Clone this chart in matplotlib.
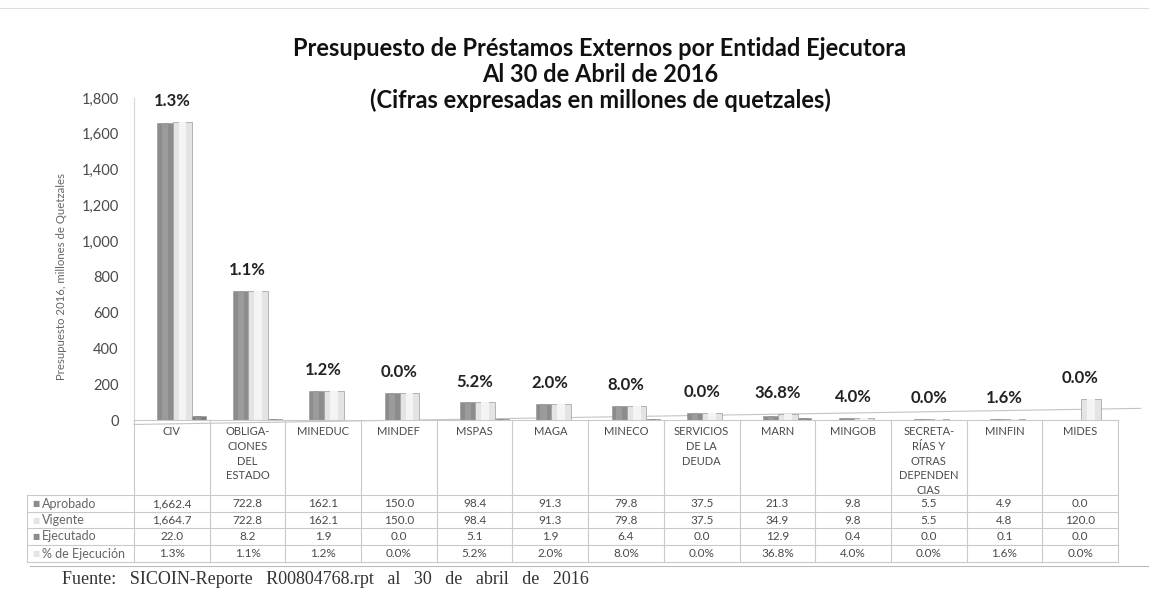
#!/usr/bin/env python3

"""Presupuesto de prestamos externos por entidad ejecutora (abril 2016)."""

import matplotlib
matplotlib.use('Agg')
import matplotlib.pyplot as plt
import numpy as np

categories = ['CIV', 'OBLIGA-\nCIONES\nDEL\nESTADO', 'MINEDUC', 'MINDEF',
              'MSPAS', 'MAGA', 'MINECO', 'SERVICIOS\nDE LA\nDEUDA', 'MARN',
              'MINGOB', 'SECRETA-\nRÍAS Y\nOTRAS\nDEPENDEN\nCIAS', 'MINFIN',
              'MIDES']
aprobado = [1662.4, 722.8, 162.1, 150.0, 98.4, 91.3, 79.8, 37.5, 21.3,
            9.8, 5.5, 4.9, 0.0]
vigente = [1664.7, 722.8, 162.1, 150.0, 98.4, 91.3, 79.8, 37.5, 34.9,
           9.8, 5.5, 4.8, 120.0]
ejecutado = [22.0, 8.2, 1.9, 0.0, 5.1, 1.9, 6.4, 0.0, 12.9, 0.4, 0.0,
             0.1, 0.0]
pct_ejec = [1.3, 1.1, 1.2, 0.0, 5.2, 2.0, 8.0, 0.0, 36.8, 4.0, 0.0,
            1.6, 0.0]
yticks = [0, 200, 400, 600, 800, 1000, 1200, 1400, 1600, 1800]

FONT = 'Lato'
W, H = 1149, 593
DARK = '#8c8c8c'
LIGHT = '#e4e4e4'
TXT = '#4a4a4a'
GRID = '#c9c9c9'


def cyl(ax, x, h, w, base, hi, z):
    """Bar with a softer strip to fake the cylinder shading."""
    ax.bar(x, h, w, color=base, edgecolor='#9a9a9a', linewidth=0.5,
           align='edge', zorder=z)
    ax.bar(x + w * 0.3, h, w * 0.4, color=hi, linewidth=0,
           align='edge', zorder=z + 0.1)


fig = plt.figure(figsize=(W / 100, H / 100), dpi=100)

# main bar axes: x 134..1118 px, y 420 (0) .. 98 (1800) px
left, right, y0, y1 = 134, 1118, 420, 98
ax = fig.add_axes([left / W, 1 - y0 / H, (right - left) / W, (y0 - y1) / H])
ax.patch.set_alpha(0)
n = len(categories)
x = np.arange(n)
ax.set_xlim(-0.5, n - 0.5)
ax.set_ylim(0, 1800)

cyl(ax, x - 0.19, aprobado, 0.2, DARK, '#9b9b9b', 3)
cyl(ax, x + 0.01, vigente, 0.26, LIGHT, '#f4f4f4', 3)
cyl(ax, x + 0.25, ejecutado, 0.2, '#7d7d7d', '#8e8e8e', 2)

for i in range(n):
    top = max(aprobado[i], vigente[i])
    ax.annotate(f'{pct_ejec[i]:.1f}%', (x[i], top), xytext=(0, 15),
                textcoords='offset points', ha='center', va='center',
                fontsize=12, fontweight='bold', family=FONT, color='#222222')

# back edge of the floor
ax.plot([-0.5, n - 0.2], [-25, 65], color='#c4c4c4', lw=0.8,
        clip_on=False, zorder=1)

ax.set_yticks(yticks)
ax.set_yticklabels([f'{v:,}' for v in yticks], family=FONT, fontsize=10.5,
                   color=TXT)
ax.tick_params(axis='y', length=0, pad=11)
ax.set_xticks([])
for s in ['top', 'right', 'bottom']:
    ax.spines[s].set_visible(False)
ax.spines['left'].set_color('#d8d8d8')
ax.set_ylabel('Presupuesto 2016, millones de Quetzales', family=FONT,
              fontsize=8.2, color='#666666')
ax.yaxis.set_label_coords(-0.068, 0.447)

# overlay in pixel coordinates for title, table and footer
ov = fig.add_axes([0, 0, 1, 1], zorder=5)
ov.set_xlim(0, W)
ov.set_ylim(H, 0)
ov.axis('off')

titles = ['Presupuesto de Préstamos Externos por Entidad Ejecutora',
          'Al 30 de Abril de 2016',
          '(Cifras expresadas en millones de quetzales)']
for k, t in enumerate(titles):
    ov.text(600, 49 + 25.5 * k, t, ha='center', va='center', family=FONT,
            fontsize=17, fontweight='bold', color='#111111')

# data table
colw = (right - left) / n
rows_y = [420, 495, 512, 528, 545, 562]
lab_left = 27
ov.plot([left, right], [420, 420], color=GRID, lw=0.8)
for yy in rows_y[1:]:
    ov.plot([lab_left, right], [yy, yy], color=GRID, lw=0.8)
ov.plot([lab_left, lab_left], [495, 562], color=GRID, lw=0.8)
for j in range(n + 1):
    xx = left + colw * j
    ov.plot([xx, xx], [420, 562], color=GRID, lw=0.8)

for j, c in enumerate(categories):
    ov.text(left + colw * (j + 0.5), 426, c, ha='center', va='top',
            family=FONT, fontsize=8, color=TXT, linespacing=1.42)

row_names = ['Aprobado', 'Vigente', 'Ejecutado', '% de Ejecución']
row_marks = [DARK, LIGHT, DARK, LIGHT]
row_vals = [[f'{v:,.1f}' for v in aprobado],
            [f'{v:,.1f}' for v in vigente],
            [f'{v:,.1f}' for v in ejecutado],
            [f'{v:.1f}%' for v in pct_ejec]]
for r in range(4):
    yc = (rows_y[r + 1] + rows_y[r + 2]) / 2
    ov.text(32, yc, '■', ha='left', va='center', fontsize=5.5,
            color=row_marks[r], family='DejaVu Sans')
    ov.text(42, yc, row_names[r], ha='left', va='center', family=FONT,
            fontsize=9, color='#666666')
    for j in range(n):
        ov.text(left + colw * (j + 0.5), yc, row_vals[r][j], ha='center',
                va='center', family=FONT, fontsize=8.5, color=TXT)

# page rules and source note
ov.plot([0, W], [8, 8], color='#dddddd', lw=0.8)
ov.plot([30, W], [566, 566], color='#bbbbbb', lw=0.8)
ov.text(62, 579,
        'Fuente:   SICOIN-Reporte   R00804768.rpt   al   30   de   abril   de   2016',
        ha='left', va='center', family='Liberation Serif', fontsize=13,
        color='#333333')

plt.savefig('out.png', dpi=100)
